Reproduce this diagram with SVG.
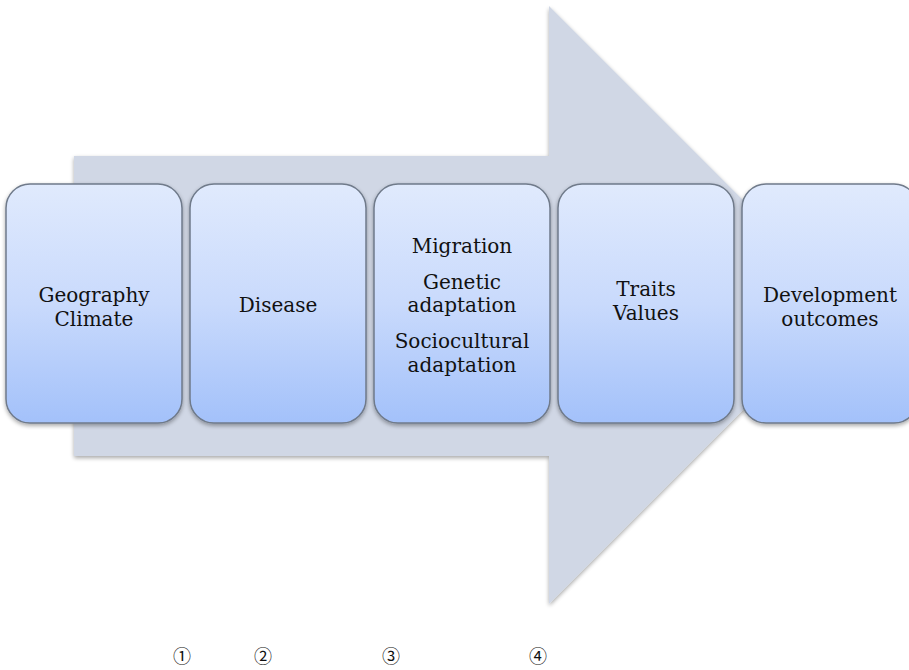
<svg xmlns="http://www.w3.org/2000/svg" width="909" height="670" viewBox="0 0 909 670">
<defs>
<linearGradient id="g" x1="0" y1="0" x2="0" y2="1">
<stop offset="0" stop-color="#e0eafd"/>
<stop offset="0.5" stop-color="#c9dafc"/>
<stop offset="1" stop-color="#a3c1fa"/>
</linearGradient>
<filter id="sh" x="-10%" y="-10%" width="120%" height="120%">
<feGaussianBlur in="SourceAlpha" stdDeviation="2"/>
<feOffset dx="0" dy="2" result="b"/>
<feComponentTransfer><feFuncA type="linear" slope="0.35"/></feComponentTransfer>
<feMerge><feMergeNode/><feMergeNode in="SourceGraphic"/></feMerge>
</filter>
</defs>
<style>
.box{fill:url(#g);stroke:#6f7a8a;stroke-width:1.5;filter:url(#sh)}
.t{font-family:"DejaVu Serif","Liberation Serif",serif;font-size:20px;fill:#111;text-anchor:middle}
.n{font-family:"Noto Sans CJK JP","DejaVu Sans",sans-serif;font-size:18px;fill:#111;text-anchor:middle}
</style>
<g id="arrow">
<polygon points="74,156 549,156 549,6 848,305 549,604 549,456 74,456" fill="#d0d7e5" filter="url(#sh)"/>
</g>
<g id="n1"><rect class="box" x="6" y="184" width="176" height="239" rx="24"/>
<text class="t" x="94" y="302">Geography</text><text class="t" x="94" y="326">Climate</text></g>
<g id="n2"><rect class="box" x="190" y="184" width="176" height="239" rx="24"/>
<text class="t" x="278" y="312">Disease</text></g>
<g id="n3"><rect class="box" x="374" y="184" width="176" height="239" rx="24"/>
<text class="t" x="462" y="253">Migration</text><text class="t" x="462" y="289">Genetic</text><text class="t" x="462" y="312">adaptation</text><text class="t" x="462" y="348">Sociocultural</text><text class="t" x="462" y="372">adaptation</text></g>
<g id="n4"><rect class="box" x="558" y="184" width="176" height="239" rx="24"/>
<text class="t" x="646" y="296">Traits</text><text class="t" x="646" y="320">Values</text></g>
<g id="n5"><rect class="box" x="742" y="184" width="176" height="239" rx="24"/>
<text class="t" x="830" y="302">Development</text><text class="t" x="830" y="326">outcomes</text></g>
<g id="connectors"></g>
<g id="numbers">
<text class="n" x="182" y="663">①</text>
<text class="n" x="263" y="663">②</text>
<text class="n" x="391" y="663">③</text>
<text class="n" x="538" y="663">④</text>
</g>
</svg>
